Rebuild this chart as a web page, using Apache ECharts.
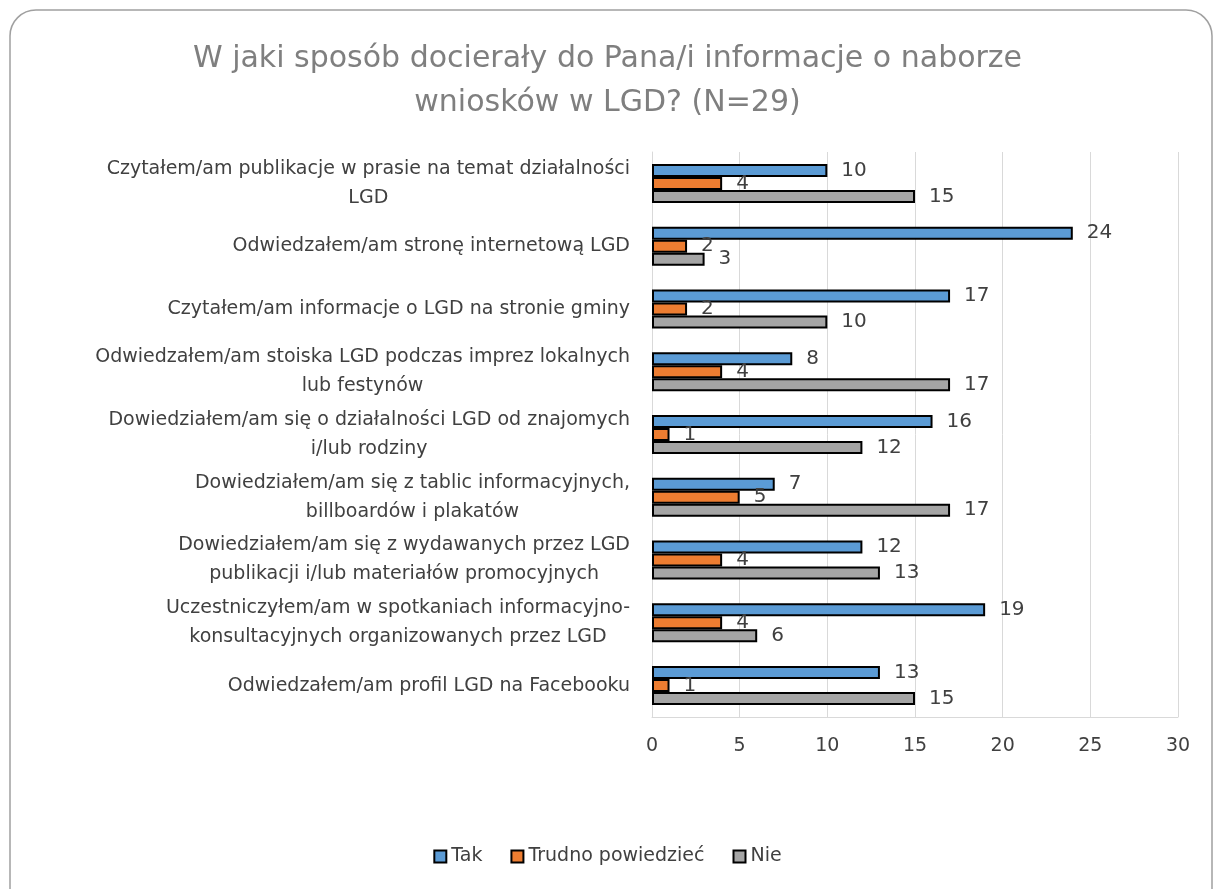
<!DOCTYPE html>
<html>
<head>
<meta charset="utf-8">
<script src="https://cdn.jsdelivr.net/npm/echarts@6/dist/echarts.min.js"></script>
<style>
  html, body { margin: 0; padding: 0; background: #fff; }
  #chart { width: 1215px; height: 889px; }
</style>
</head>
<body>
<div id="chart"></div>
<script>
const categories = [
  'Czytałem/am publikacje w prasie na temat działalności\nLGD',
  'Odwiedzałem/am stronę internetową LGD',
  'Czytałem/am informacje o LGD na stronie gminy',
  'Odwiedzałem/am stoiska LGD podczas imprez lokalnych\nlub festynów',
  'Dowiedziałem/am się o działalności LGD od znajomych\ni/lub rodziny',
  'Dowiedziałem/am się z tablic informacyjnych,\nbillboardów i plakatów',
  'Dowiedziałem/am się z wydawanych przez LGD\npublikacji i/lub materiałów promocyjnych',
  'Uczestniczyłem/am w spotkaniach informacyjno-\nkonsultacyjnych organizowanych przez LGD',
  'Odwiedzałem/am profil LGD na Facebooku'
]
const tak = [10, 24, 17, 8, 16, 7, 12, 19, 13]
const trudno = [4, 2, 2, 4, 1, 5, 4, 4, 1]
const nie = [15, 3, 10, 17, 12, 17, 13, 6, 15]

const FONT = 'DejaVu Sans'
const TEXT = '#404040'

const myChart = echarts.init(document.getElementById('chart'))

const barSeries = (name, data, color) => ({
  name: name,
  type: 'bar',
  data: data,
  barWidth: 13,
  barGap: '0%',
  itemStyle: { color: color, borderColor: '#000', borderWidth: 2 },
  label: {
    show: true,
    position: 'right',
    distance: 14,
    color: TEXT,
    fontSize: 20,
    fontFamily: FONT,
  },
})

const option = {
  backgroundColor: '#fff',
  animation: false,
  graphic: [
    {
      type: 'rect',
      shape: { x: 10, y: 10, width: 1202, height: 920, r: 26 },
      style: { fill: 'none', stroke: '#a0a0a0', lineWidth: 1.5 },
      z: -10,
    },
  ],
  title: {
    text: 'W jaki sposób docierały do Pana/i informacje o naborze\nwniosków w LGD? (N=29)',
    left: 'center',
    top: 32,
    textStyle: {
      color: '#7f7f7f',
      fontSize: 30,
      fontWeight: 'normal',
      fontFamily: FONT,
      lineHeight: 44,
    },
  },
  legend: {
    bottom: 18,
    left: 'center',
    icon: 'rect',
    itemWidth: 12,
    itemHeight: 12,
    itemGap: 28,
    textStyle: { color: TEXT, fontSize: 19, fontFamily: FONT },
    data: ['Tak', 'Trudno powiedzieć', 'Nie'],
  },
  grid: { left: 652, right: 37, top: 152, bottom: 172 },
  xAxis: {
    type: 'value',
    min: 0,
    max: 30,
    interval: 5,
    axisLine: { show: true, lineStyle: { color: '#d9d9d9' } },
    axisTick: { show: false },
    splitLine: { lineStyle: { color: '#d9d9d9' } },
    axisLabel: { color: TEXT, fontSize: 19, fontFamily: FONT, margin: 20 },
  },
  yAxis: {
    type: 'category',
    inverse: true,
    data: categories,
    axisLine: { lineStyle: { color: '#d9d9d9' } },
    axisTick: { show: false },
    axisLabel: {
      margin: 22,
      color: TEXT,
      fontSize: 19,
      fontFamily: FONT,
      lineHeight: 29,
      formatter: (v) => v.split('\n').map((l) => '{c|' + l + '}').join('\n'),
      rich: {
        c: { align: 'center', color: TEXT, fontSize: 19, fontFamily: FONT, lineHeight: 29 },
      },
    },
  },
  series: [
    barSeries('Tak', tak, '#5b9bd5'),
    barSeries('Trudno powiedzieć', trudno, '#ed7d31'),
    barSeries('Nie', nie, '#a5a5a5'),
  ],
}

myChart.setOption(option)
</script>
</body>
</html>
